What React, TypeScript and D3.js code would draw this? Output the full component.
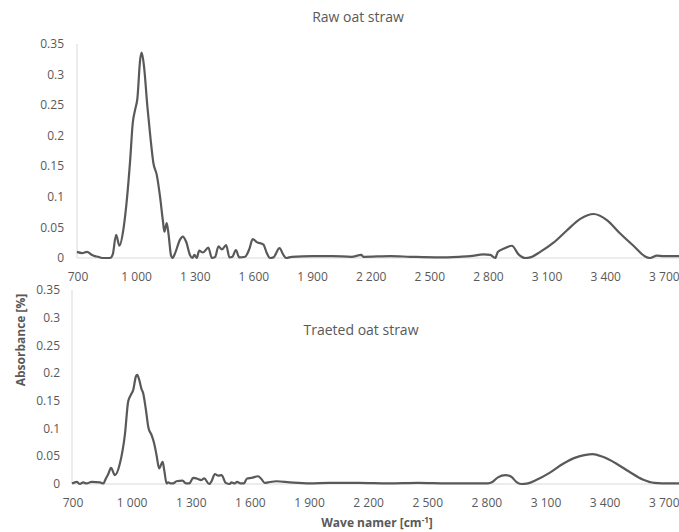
import React from "react";
import * as d3 from "d3";

// FTIR spectra: wavenumber (cm⁻¹) and absorbance for each sample
const rawWave = [
  695, 721, 746, 772, 787, 803, 823, 864, 878, 895, 912, 932, 950, 967, 980, 992,
  1004, 1018, 1026, 1038, 1055, 1072, 1086, 1103, 1120, 1134, 1142, 1154, 1163, 1176,
  1183, 1197, 1222, 1236, 1253, 1274, 1285, 1296, 1308, 1320, 1339, 1367, 1385, 1402,
  1419, 1436, 1458, 1475, 1490, 1508, 1525, 1555, 1577, 1594, 1615, 1649, 1666, 1683,
  1700, 1731, 1751, 1765, 1794, 1900, 2000, 2100, 2150, 2160, 2300, 2400, 2550, 2650,
  2707, 2775, 2809, 2835, 2848, 2877, 2920, 2954, 2988, 3014, 3065, 3133, 3201, 3270,
  3338, 3406, 3474, 3542, 3611, 3628, 3662, 3696, 3771, 3790,
];
const rawAbs = [
  0.01, 0.008, 0.01, 0.005, 0.003, 0.002, 0, 0, 0.006, 0.038, 0.02, 0.046, 0.095, 0.16,
  0.22, 0.242, 0.261, 0.324, 0.336, 0.313, 0.248, 0.193, 0.155, 0.136, 0.1, 0.062,
  0.043, 0.057, 0.04, 0.004, 0, 0.008, 0.03, 0.035, 0.027, 0.004, 0, 0.005, 0, 0.012,
  0.009, 0.017, 0, 0.002, 0.019, 0.014, 0.021, 0.001, 0.002, 0.013, 0.001, 0.002,
  0.015, 0.031, 0.026, 0.022, 0.008, 0, 0.001, 0.016, 0.005, 0, 0.002, 0.003, 0.003,
  0.002, 0.005, 0.002, 0.003, 0.002, 0.001, 0.002, 0.003, 0.006, 0.005, 0, 0.01,
  0.015, 0.02, 0.006, 0, 0.001, 0.01, 0.025, 0.045, 0.064, 0.072, 0.062, 0.04, 0.02,
  0.001, 0, 0.004, 0.003, 0.003, 0.003,
];

const treatedWave = [
  695, 719, 735, 752, 769, 795, 837, 854, 867, 879, 893, 913, 938, 964, 980, 994, 1006,
  1019, 1026, 1036, 1048, 1056, 1070, 1082, 1099, 1112, 1124, 1137, 1155, 1163, 1175,
  1183, 1195, 1208, 1225, 1256, 1273, 1290, 1310, 1335, 1349, 1366, 1391, 1403, 1420,
  1437, 1454, 1475, 1496, 1504, 1521, 1533, 1550, 1567, 1583, 1606, 1639, 1656, 1673,
  1690, 1733, 1800, 1901, 2000, 2150, 2300, 2450, 2600, 2712, 2805, 2830, 2856, 2895,
  2924, 2949, 2974, 3008, 3050, 3118, 3185, 3253, 3295, 3337, 3388, 3456, 3523, 3591,
  3650, 3726, 3790,
];
const treatedAbs = [
  0.001, 0.004, 0, 0.003, 0.001, 0.004, 0.003, 0.001, 0.01, 0.018, 0.029, 0.016, 0.037,
  0.091, 0.149, 0.161, 0.17, 0.194, 0.197, 0.188, 0.171, 0.164, 0.134, 0.103, 0.088,
  0.073, 0.052, 0.028, 0.04, 0.025, 0.001, 0.003, 0.001, 0.001, 0.005, 0.006, 0.001,
  0.001, 0.011, 0.009, 0.007, 0.01, 0, 0.005, 0.018, 0.015, 0.016, 0.002, 0, 0.003,
  0.001, 0.004, 0.001, 0.001, 0.01, 0.011, 0.014, 0.009, 0.002, 0.003, 0.005, 0.003,
  0.001, 0.002, 0.002, 0.001, 0.002, 0.001, 0.001, 0.001, 0.004, 0.012, 0.016, 0.013,
  0.004, 0, 0.001, 0.007, 0.02, 0.036, 0.048, 0.052, 0.054, 0.049, 0.037, 0.022, 0.008,
  0.002, 0.001, 0.001,
];

const waveTicks = [700, 1000, 1300, 1600, 1900, 2200, 2500, 2800, 3100, 3400, 3700];
const absTicks = [0, 0.05, 0.1, 0.15, 0.2, 0.25, 0.3, 0.35];

const W = 679;
const H = 532;
const TEXT = "#595959";
const AXIS = "#d9d9d9";
const FONT = "'Open Sans', 'Liberation Sans', sans-serif";
const waveDomain: [number, number] = [695, 3775];

const fmtWave = (v: number) => d3.format(",")(v).replace(/,/g, " ");
const fmtAbs = (v: number) => String(+v.toFixed(2));

type PanelProps = {
  title: string;
  titleX: number;
  titleY: number;
  wave: number[];
  abs: number[];
  left: number;
  top: number;
  bottom: number;
  xLabelY: number;
  yLabelRight: number;
};

function Panel({ title, titleX, titleY, wave, abs, left, top, bottom, xLabelY, yLabelRight }: PanelProps) {
  const x = d3.scaleLinear().domain(waveDomain).range([left, W]);
  const y = d3.scaleLinear().domain([0, 0.35]).range([bottom, top]);
  const pts = wave.map((w, i) => [w, abs[i]] as [number, number]);
  const line = d3
    .line<[number, number]>()
    .x((d) => x(d[0]))
    .y((d) => y(d[1]))
    .curve(d3.curveMonotoneX);

  return (
    <g>
      <text x={titleX} y={titleY} textAnchor="middle" fontSize={14} fill={TEXT} fontFamily={FONT}>
        {title}
      </text>
      <line x1={left} x2={left} y1={y(0.35)} y2={y(0)} stroke={AXIS} strokeWidth={1} />
      <line x1={left} x2={W} y1={y(0)} y2={y(0)} stroke={AXIS} strokeWidth={1} />
      {absTicks.map((t) => (
        <text
          key={t}
          x={yLabelRight}
          y={y(t)}
          dy="0.35em"
          textAnchor="end"
          fontSize={12}
          fill={TEXT}
          fontFamily={FONT}
        >
          {fmtAbs(t)}
        </text>
      ))}
      {waveTicks.map((t) => (
        <text key={t} x={x(t)} y={xLabelY} textAnchor="middle" fontSize={12} fill={TEXT} fontFamily={FONT}>
          {fmtWave(t)}
        </text>
      ))}
      <path d={line(pts) ?? ""} fill="none" stroke="#595959" strokeWidth={2.2} strokeLinejoin="round" />
    </g>
  );
}

export default function App() {
  return (
    <svg
      width={W}
      height={H}
      viewBox={`0 0 ${W} ${H}`}
      style={{ position: "absolute", left: 0, top: 0, background: "#fff" }}
    >
      <rect width={W} height={H} fill="#fff" />
      <Panel
        title="Raw oat straw"
        titleX={358}
        titleY={22}
        wave={rawWave}
        abs={rawAbs}
        left={77}
        top={44}
        bottom={258}
        xLabelY={281}
        yLabelRight={64}
      />
      <Panel
        title="Traeted oat straw"
        titleX={361}
        titleY={335}
        wave={treatedWave}
        abs={treatedAbs}
        left={72}
        top={290}
        bottom={484}
        xLabelY={506.5}
        yLabelRight={60}
      />
      <text
        transform="translate(25,340) rotate(-90)"
        textAnchor="middle"
        fontSize={12}
        fontWeight="bold"
        fill={TEXT}
        fontFamily={FONT}
      >
        Absorbance [%]
      </text>
      <text x={377} y={527} textAnchor="middle" fontSize={12} fontWeight="bold" fill={TEXT} fontFamily={FONT}>
        Wave namer [cm
        <tspan dy={-4} fontSize={8}>
          -1
        </tspan>
        <tspan dy={4}>]</tspan>
      </text>
    </svg>
  );
}
